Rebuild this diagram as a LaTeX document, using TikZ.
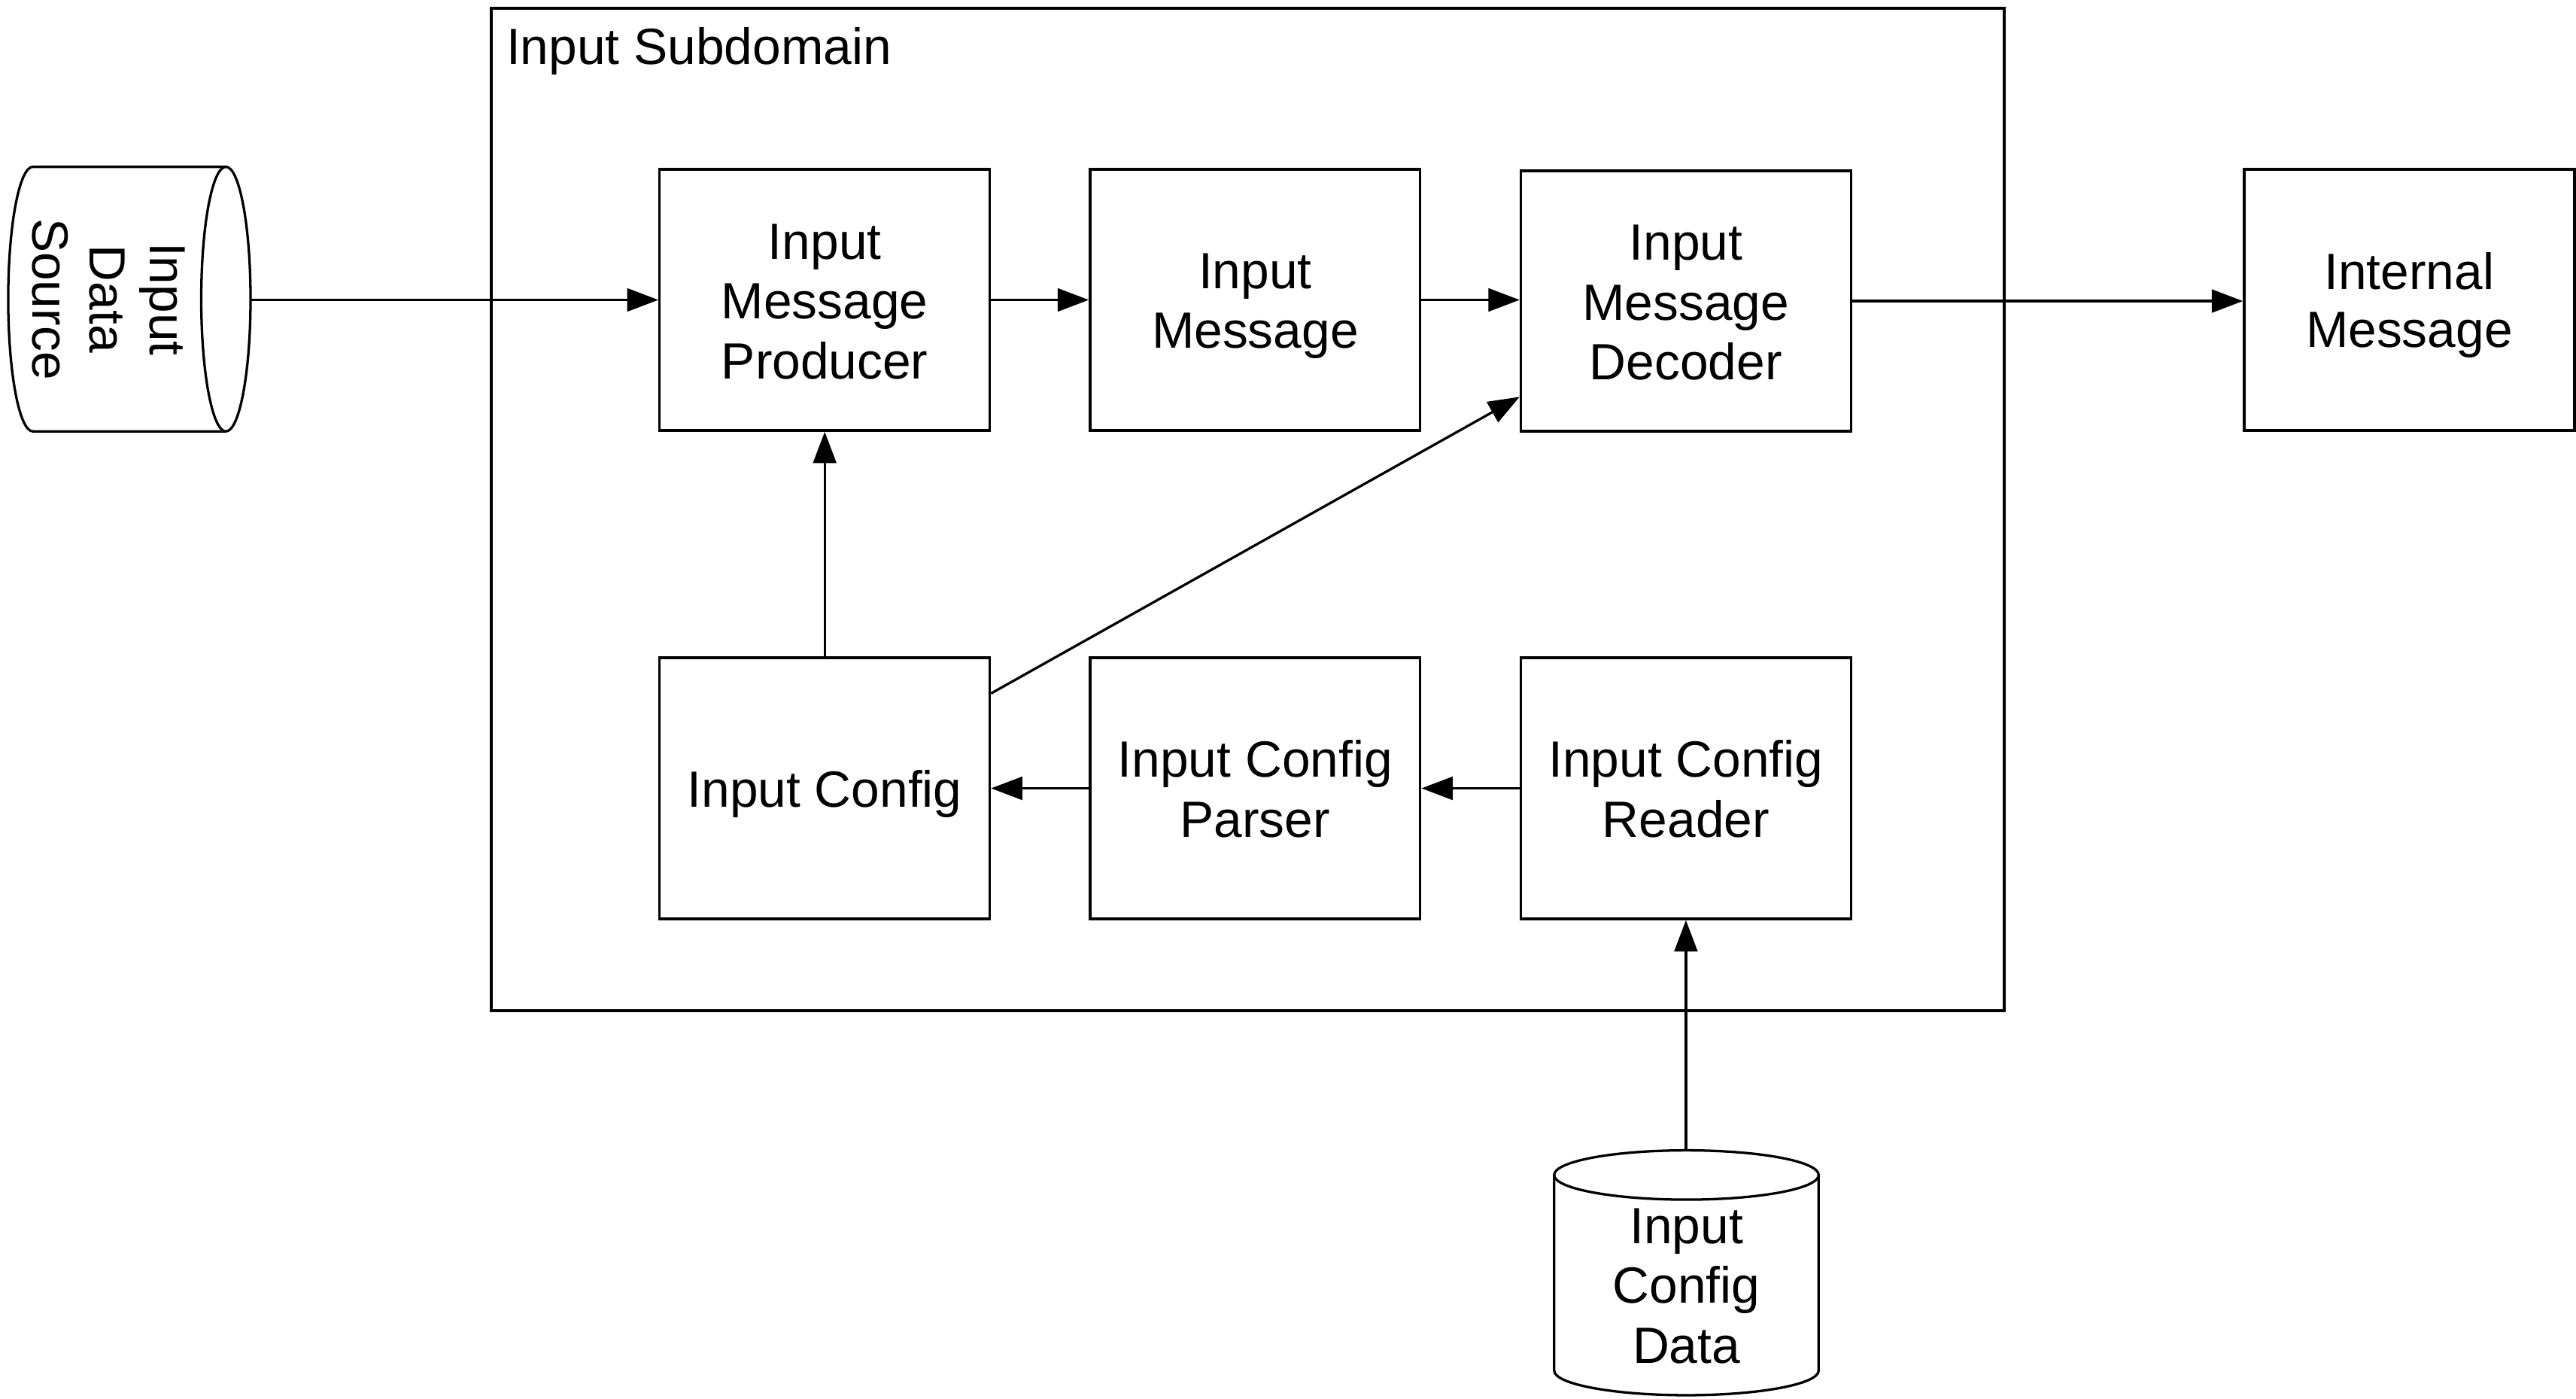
\documentclass[tikz,border=0pt]{standalone}
\usepackage{fontspec}
\setmainfont{Liberation Sans}
\usetikzlibrary{arrows.meta,calc}
\newcommand\lst{\rule[-6pt]{0pt}{35pt}}
\begin{document}
\begin{tikzpicture}[x=1pt,y=1pt,
  txt/.style={align=center,inner sep=0pt,font=\fontsize{31}{35}\selectfont},
  box/.style={txt,draw,line width=1.5pt,minimum width=201pt,minimum height=159pt},
  shp/.style={line width=1.5pt},
  arr/.style={line width=1.5pt,-{Triangle[length=19pt,width=14pt]}}]
\useasboundingbox (0,0) rectangle (1568,-850.86);
% frame
\node[draw,line width=1.5pt,minimum width=921pt,minimum height=610pt,inner sep=0pt] (frame) at (759.5,-310) {};
\node[txt,anchor=base west] (title) at (308,-39) {Input Subdomain};
% boxes
\node[box] (prod) at (502,-182.5) {\lst Input\\\lst Message\\\lst Producer};
\node[box] (msg) at (764,-182.5) {\lst Input\\\lst Message};
\node[box,minimum height=158.5pt] (dec) at (1026.2,-183.2) {\lst Input\\\lst Message\\\lst Decoder};
\node[box] (int) at (1466.5,-182.5) {\lst Internal\\\lst Message};
\node[box] (cfg) at (502,-479.7) {\lst Input Config};
\node[box] (par) at (764,-479.7) {\lst Input Config\\\lst Parser};
\node[box] (rdr) at (1026.2,-479.7) {\lst Input Config\\\lst Reader};
% left cylinder (rotated)
\draw[shp] (137.5,-182) ellipse [x radius=15, y radius=80.5];
\draw[shp] (137.5,-101.5) -- (20,-101.5) arc[start angle=90, end angle=270, x radius=15, y radius=80.5] -- (137.5,-262.5);
\node[txt,rotate=-90] (srclbl) at (67,-182) {\lst Input\\\lst Data\\\lst Source};
\coordinate (src) at (152.5,-182.5);
% bottom cylinder
\draw[shp] (1026.5,-715) ellipse [x radius=80.5, y radius=15];
\draw[shp] (946,-715) -- (946,-834) arc[start angle=180, end angle=360, x radius=80.5, y radius=15] -- (1107,-715);
\node[txt] (cdlbl) at (1026.5,-781.5) {\lst Input\\\lst Config\\\lst Data};
\coordinate (cdtop) at (1026.2,-700);
% connectors
\coordinate (cfgout) at ($(cfg.north east)+(0,-22.5)$);
\coordinate (decin) at ($(dec.south west)+(0,21.7)$);
\draw[arr] (src) -- (prod.west);
\draw[arr] (prod.east) -- (msg.west);
\draw[arr] (msg.east) -- (msg.east -| dec.west);
\draw[arr] (dec.east) -- (dec.east -| int.west);
\draw[arr] (cfg.north) -- (prod.south);
\draw[arr] (cfgout) -- (decin);
\draw[arr] (par.west) -- (cfg.east);
\draw[arr] (rdr.west) -- (par.east);
\draw[arr] (cdtop) -- (rdr.south);
\end{tikzpicture}
\end{document}
